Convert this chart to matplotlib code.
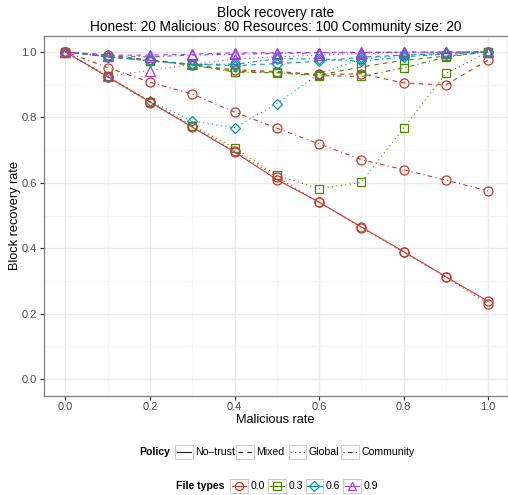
import matplotlib
matplotlib.use("Agg")
from matplotlib import pyplot as plt
from matplotlib.lines import Line2D
from matplotlib.patches import Rectangle

plt.rcParams["font.family"] = ["Liberation Sans", "DejaVu Sans"]

malicious_rate = [0.0, 0.1, 0.2, 0.3, 0.4, 0.5, 0.6, 0.7, 0.8, 0.9, 1.0]

policies = ["No\u2013trust", "Mixed", "Global", "Community"]
file_types = ["0.0", "0.3", "0.6", "0.9"]

# recovery rate per policy / file type share
notrust_00 = [1.0, 0.924, 0.847, 0.770, 0.694, 0.610, 0.541, 0.465, 0.390, 0.313, 0.238]

mixed_00 = [1.0, 0.990, 0.975, 0.960, 0.945, 0.940, 0.931, 0.933, 0.905, 0.899, 0.975]
mixed_03 = [1.0, 0.985, 0.973, 0.962, 0.940, 0.938, 0.929, 0.954, 0.974, 0.987, 1.0]
mixed_06 = [1.0, 0.985, 0.975, 0.962, 0.958, 0.964, 0.971, 0.984, 0.990, 0.995, 1.0]
mixed_09 = [1.0, 0.990, 0.990, 0.993, 0.997, 0.997, 0.998, 0.999, 0.999, 1.0, 1.0]

global_00 = [1.0, 0.922, 0.845, 0.772, 0.697, 0.618, 0.540, 0.463, 0.388, 0.312, 0.231]
global_03 = [1.0, 0.925, 0.848, 0.775, 0.706, 0.623, 0.582, 0.601, 0.767, 0.934, 1.0]
global_06 = [1.0, 0.924, 0.850, 0.789, 0.768, 0.842, 0.933, 0.978, 0.990, 0.996, 1.0]
global_09 = [1.0, 0.926, 0.943, 0.962, 0.978, 0.985, 0.990, 0.995, 0.997, 0.998, 1.0]

community_00 = [1.0, 0.952, 0.907, 0.871, 0.816, 0.767, 0.719, 0.671, 0.640, 0.608, 0.575]
community_03 = [1.0, 0.985, 0.973, 0.960, 0.938, 0.936, 0.927, 0.925, 0.951, 0.984, 1.0]
community_06 = [1.0, 0.985, 0.972, 0.962, 0.962, 0.979, 0.979, 0.971, 0.985, 0.993, 1.0]
community_09 = [1.0, 0.988, 0.985, 0.990, 0.993, 0.995, 0.997, 0.998, 0.999, 0.999, 1.0]

series = [
    ("Global", "0.0", global_00), ("Global", "0.3", global_03),
    ("Global", "0.6", global_06), ("Global", "0.9", global_09),
    ("Mixed", "0.0", mixed_00), ("Mixed", "0.3", mixed_03),
    ("Mixed", "0.6", mixed_06), ("Mixed", "0.9", mixed_09),
    ("Community", "0.0", community_00), ("Community", "0.3", community_03),
    ("Community", "0.6", community_06), ("Community", "0.9", community_09),
    ("No\u2013trust", "0.0", notrust_00),
]

colours = {"0.0": "#C53A30", "0.3": "#4C8A00", "0.6": "#0A989E", "0.9": "#9B40E8"}
markers = {"0.0": "o", "0.3": "s", "0.6": "D", "0.9": "^"}
msizes = {"0.0": 6.5, "0.3": 5.8, "0.6": 5.2, "0.9": 6.7}
dashes = {
    "No\u2013trust": "-",
    "Mixed": (0, (4, 4)),
    "Global": (0, (1, 3)),
    "Community": (0, (1, 3, 4, 3)),
}

W, H = 508, 495
fig = plt.figure(figsize=(W / 100, H / 100), dpi=100)
ax = fig.add_axes([43.5 / W, 1 - 395.5 / H, 464 / W, 360 / H])

for policy, ft, ys in series:
    ax.plot(malicious_rate, ys, color=colours[ft], linestyle=dashes[policy],
            linewidth=0.8, marker=markers[ft], markersize=msizes[ft],
            markerfacecolor="none", markeredgewidth=0.9, zorder=3)

ax.set_xlim(-0.052, 1.046)
ax.set_ylim(-0.05, 1.05)
ax.set_xticks([0.0, 0.2, 0.4, 0.6, 0.8, 1.0])
ax.set_yticks([0.0, 0.2, 0.4, 0.6, 0.8, 1.0])
ax.set_xticks([0.1, 0.3, 0.5, 0.7, 0.9], minor=True)
ax.set_yticks([0.1, 0.3, 0.5, 0.7, 0.9], minor=True)
ax.xaxis.set_major_formatter(lambda v, p: f"{v:.1f}")
ax.yaxis.set_major_formatter(lambda v, p: f"{v:.1f}")
ax.grid(which="major", color="#EBEBEB", linewidth=1.0, zorder=0)
ax.grid(which="minor", color="#F5F5F5", linewidth=0.8, zorder=0)
ax.tick_params(which="major", length=3, width=0.8, color="#333333",
               labelsize=8, labelcolor="#4D4D4D", pad=2)
ax.tick_params(axis="x", which="major", pad=1.5)
ax.tick_params(which="minor", length=0)
for sp in ax.spines.values():
    sp.set_color("#7F7F7F")
    sp.set_linewidth(0.9)
ax.set_axisbelow(True)
ax.set_xlabel("Malicious rate", fontsize=9.2, labelpad=1.5)
ax.set_ylabel("Block recovery rate", fontsize=9.2, labelpad=0)
ax.set_title("Block recovery rate\nHonest: 20 Malicious: 80 Resources: 100 Community size: 20",
             fontsize=9.8, linespacing=1.05, pad=3)

# legends drawn in pixel coordinates below the panel
lg = fig.add_axes([0, 0, 1, 1], facecolor="none")
lg.set_xlim(0, W)
lg.set_ylim(H, 0)
lg.axis("off")


def key_box(x, y):
    lg.add_patch(Rectangle((x, y - 7.3), 17.5, 14.6, facecolor="white",
                           edgecolor="#CCCCCC", linewidth=0.7))


row1 = 452
lg.text(170, row1, "Policy", fontsize=7.6, fontweight="bold", ha="right", va="center")
for x0, policy in zip([175, 236, 288.5, 341], policies):
    key_box(x0, row1)
    lg.add_line(Line2D([x0 + 1.5, x0 + 16], [row1, row1], color="#1A1A1A",
                       linestyle=dashes[policy], linewidth=0.8))
    lg.text(x0 + 20, row1, policy, fontsize=7.6, va="center", ha="left")

row2 = 486
lg.text(225, row2, "File types", fontsize=7.6, fontweight="bold", ha="right", va="center")
for x0, ft in zip([230, 268, 305.5, 343], file_types):
    key_box(x0, row2)
    lg.add_line(Line2D([x0 + 1.5, x0 + 16], [row2, row2], color=colours[ft],
                       linewidth=0.8))
    lg.add_line(Line2D([x0 + 8.75], [row2], color=colours[ft], marker=markers[ft],
                       markersize=msizes[ft] * 0.9, markerfacecolor="none",
                       markeredgewidth=0.9, linestyle="none"))
    lg.text(x0 + 20.5, row2, ft, fontsize=7.6, va="center", ha="left")

fig.savefig("out.png", dpi=100, facecolor="white")
